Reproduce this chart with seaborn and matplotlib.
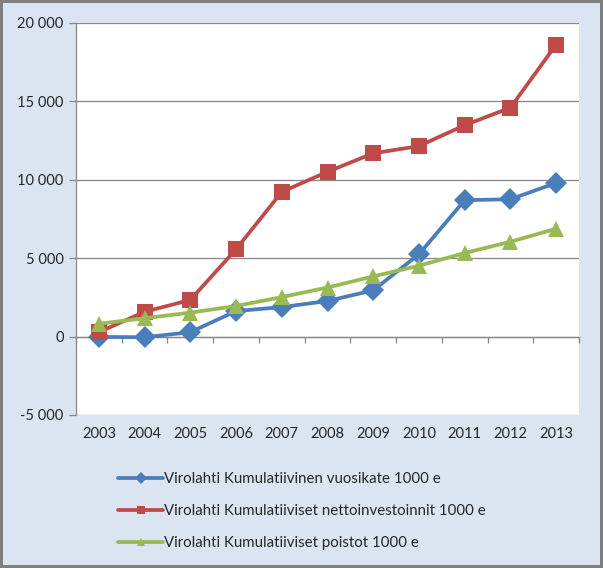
import numpy as np
import pandas as pd
import matplotlib
matplotlib.use("Agg")
import matplotlib.pyplot as plt
from matplotlib.ticker import FuncFormatter
import seaborn as sns

years = ["2003", "2004", "2005", "2006", "2007", "2008", "2009", "2010", "2011", "2012", "2013"]
vuosikate = [-20, -40, 280, 1630, 1880, 2270, 2950, 5250, 8700, 8760, 9800]
nettoinvestoinnit = [280, 1580, 2340, 5570, 9230, 10510, 11690, 12150, 13480, 14600, 18620]
poistot = [820, 1170, 1530, 1950, 2520, 3130, 3840, 4520, 5330, 6050, 6880]

labels = ["Virolahti Kumulatiivinen vuosikate 1000 e",
          "Virolahti Kumulatiiviset nettoinvestoinnit 1000 e",
          "Virolahti Kumulatiiviset poistot 1000 e"]
colors = ["#4A7EBB", "#BE4B48", "#98B954"]
markers = ["D", "s", "^"]

sns.set_style("white")
plt.rcParams['font.family'] = ['Lato', 'DejaVu Sans']

rows = []
for lab, vals in zip(labels, [vuosikate, nettoinvestoinnit, poistot]):
    for i, v in enumerate(vals):
        rows.append({"idx": i, "value": v, "series": lab})
df = pd.DataFrame(rows)

bg = "#DBE5F1"
grid_c = "#868686"
fig = plt.figure(figsize=(6.03, 5.68), dpi=100)
fig.patch.set_facecolor(bg)
fig.patch.set_edgecolor("#7F7F7F")
fig.patch.set_linewidth(4)
ax = fig.add_axes([76 / 603, 1 - 415 / 568, (579 - 76) / 603, (415 - 23) / 568])
ax.set_facecolor("white")

sns.lineplot(data=df, x="idx", y="value", hue="series", style="series",
             palette=dict(zip(labels, colors)), markers=dict(zip(labels, markers)),
             dashes=False, linewidth=2.7, markersize=11, markeredgewidth=0,
             ax=ax, legend=False)

ax.set_xlim(-0.5, 10.5)
ax.set_ylim(-5000, 20000)
ax.set_yticks(np.arange(-5000, 20001, 5000))
ax.yaxis.set_major_formatter(FuncFormatter(lambda v, p: f"{v:,.0f}".replace(",", " ")))
ax.set_xticks(range(len(years)))
ax.set_xticklabels(years)
ax.set_xlabel("")
ax.set_ylabel("")
ax.grid(axis="y", color=grid_c, linewidth=0.9)
ax.grid(axis="x", visible=False)
ax.set_axisbelow(True)
for s in ["top", "right", "bottom"]:
    ax.spines[s].set_visible(False)
ax.spines["left"].set_color(grid_c)
ax.spines["left"].set_linewidth(0.9)
ax.tick_params(axis="y", length=5, width=0.9, color=grid_c, labelsize=10.5, pad=4, left=True)
ax.tick_params(axis="x", length=0, labelsize=10.5, pad=9)

# category axis crossing at zero, with tick marks between categories
sec = ax.secondary_xaxis(0.2)
sec.set_xticks(np.arange(-0.5, 11, 1))
sec.set_xticklabels([])
sec.spines["bottom"].set_color(grid_c)
sec.spines["bottom"].set_linewidth(0.9)
sec.tick_params(axis="x", length=4, width=0.9, color=grid_c, direction="out", bottom=True)

handles = [plt.Line2D([], [], color=c, marker=m, lw=2.7, ms=6, mew=0)
           for c, m in zip(colors, markers)]
fig.legend(handles, labels, loc="upper left", bbox_to_anchor=(112 / 603, 1 - 466 / 568),
           frameon=False, fontsize=10.8, labelspacing=1.2, handlelength=3.0,
           handletextpad=0.1, borderaxespad=0)

fig.savefig("out.png", dpi=100, facecolor=fig.get_facecolor(), edgecolor=fig.get_edgecolor())
